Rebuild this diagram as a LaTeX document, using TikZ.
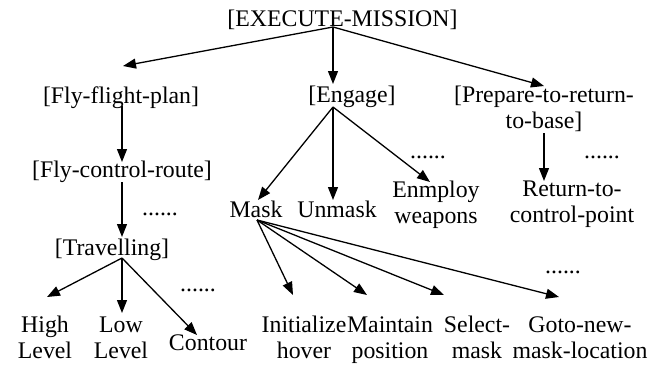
\documentclass[tikz,border=0pt]{standalone}
\usepackage{fontspec}
\setmainfont{Liberation Serif}
\usetikzlibrary{arrows.meta}
\begin{document}
\begin{tikzpicture}[x=1pt,y=-1pt,
  lbl/.style={inner sep=0pt,outer sep=0pt,anchor=base,align=center,
    font=\fontsize{23.8}{26}\selectfont},
  conn/.style={line width=1.3pt,-{Triangle[length=13pt,width=10pt]}}]
\useasboundingbox (0,0) rectangle (664,365);
% nodes (multi-line nodes are placed at the baseline of their last line)
\node[lbl] (root) at (342.5,26) {[EXECUTE-MISSION]};
\node[lbl] (ffp) at (121,103) {[Fly-flight-plan]};
\node[lbl] (eng) at (352,102) {[Engage]};
\node[lbl] (prep) at (544,128) {[Prepare-to-return-\\to-base]};
\node[lbl] (fcr) at (122,177) {[Fly-control-route]};
\node[lbl] (trav) at (112,255) {[Travelling]};
\node[lbl] (high) at (45,358) {High\\Level};
\node[lbl] (low) at (121,358) {Low\\Level};
\node[lbl] (cont) at (208,350) {Contour};
\node[lbl] (mask) at (256,217) {Mask};
\node[lbl] (unmask) at (337,217) {Unmask};
\node[lbl] (emp) at (436,223) {Enmploy\\weapons};
\node[lbl] (ret) at (572,222) {Return-to-\\control-point};
\node[lbl] (init) at (304,358) {Initialize\\hover};
\node[lbl] (maint) at (390,358) {Maintain\\position};
\node[lbl] (sel) at (477,358) {Select-\\mask};
\node[lbl] (goto) at (580,358) {Goto-new-\\mask-location};
% dots
\node[lbl] (d1) at (160,215) {......};
\node[lbl] (d2) at (428,158) {......};
\node[lbl] (d3) at (602,158) {......};
\node[lbl] (d4) at (198,291) {......};
\node[lbl] (d5) at (563,273) {......};
% connector end points
\coordinate (rootout) at (333,27);
\coordinate (ffpin) at (123,66);
\coordinate (engin) at (333,84);
\coordinate (prepin) at (544,86);
\coordinate (ffpout) at (122,106);
\coordinate (fcrin) at (122,162);
\coordinate (fcrout) at (122,182);
\coordinate (travin) at (122,237);
\coordinate (travout) at (122,258);
\coordinate (highin) at (47,297);
\coordinate (lowin) at (122,313);
\coordinate (contin) at (197,335);
\coordinate (engout) at (333,107);
\coordinate (maskin) at (258,200);
\coordinate (unmaskin) at (333,200);
\coordinate (empin) at (430,182);
\coordinate (prepout) at (544,133);
\coordinate (retin) at (544,181);
\coordinate (maskout) at (257,220);
\coordinate (initin) at (293,295);
\coordinate (maintin) at (367,295);
\coordinate (selin) at (444,295);
\coordinate (gotoin) at (559,297);
% connectors
\draw[conn] (rootout) -- (ffpin);
\draw[conn] (rootout) -- (engin);
\draw[conn] (rootout) -- (prepin);
\draw[conn] (ffpout) -- (fcrin);
\draw[conn] (fcrout) -- (travin);
\draw[conn] (travout) -- (highin);
\draw[conn] (travout) -- (lowin);
\draw[conn] (travout) -- (contin);
\draw[conn] (engout) -- (maskin);
\draw[conn] (engout) -- (unmaskin);
\draw[conn] (engout) -- (empin);
\draw[conn] (prepout) -- (retin);
\draw[conn] (maskout) -- (initin);
\draw[conn] (maskout) -- (maintin);
\draw[conn] (maskout) -- (selin);
\draw[conn] (maskout) -- (gotoin);
\end{tikzpicture}
\end{document}
